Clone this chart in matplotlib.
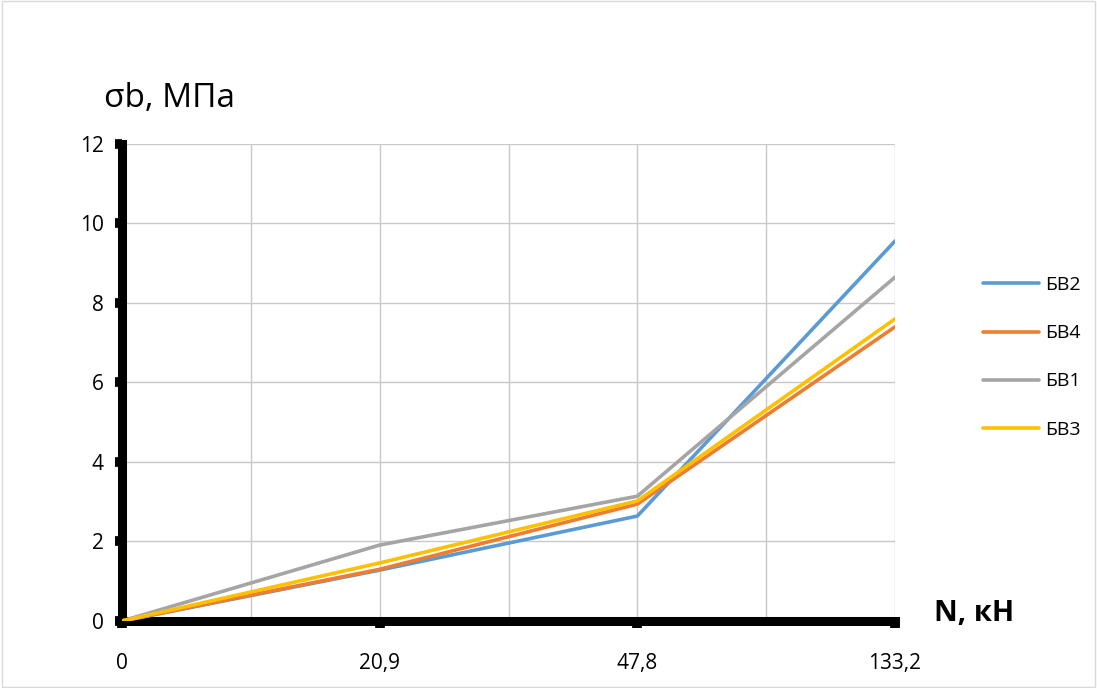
import matplotlib.pyplot as plt
from matplotlib.patches import Rectangle

# Data
categories = ["0", "20,9", "47,8", "133,2"]
series_names = ["БВ2", "БВ4", "БВ1", "БВ3"]
bv2 = [0, 1.28, 2.64, 9.56]
bv4 = [0, 1.30, 2.94, 7.40]
bv1 = [0, 1.91, 3.14, 8.65]
bv3 = [0, 1.46, 3.02, 7.60]
colors = ["#5B9BD5", "#ED7D31", "#A5A5A5", "#FFC000"]

plt.rcParams['font.family'] = ['Open Sans', 'DejaVu Sans']

fig = plt.figure(figsize=(10.97, 6.88), dpi=100)
ax = fig.add_axes([0.1112, 0.0974, 0.7047, 0.6933])

x = list(range(len(categories)))
for vals, name, c in zip([bv2, bv4, bv1, bv3], series_names, colors):
    ax.plot(x, vals, color=c, lw=2.6, label=name, solid_capstyle='round', zorder=3)

ax.set_xlim(0, 3)
ax.set_ylim(0, 12)
ax.set_xticks(x)
ax.set_xticklabels(categories)
ax.set_xticks([0.5, 1.5, 2.5], minor=True)
ax.set_yticks(range(0, 13, 2))

ax.grid(True, which='both', color='#C8C8C8', lw=1, zorder=0)
ax.tick_params(axis='both', which='major', length=5, width=7, color='black',
               labelsize=15, pad=8)
ax.tick_params(axis='x', which='minor', length=0)
ax.tick_params(axis='x', pad=18)

for side in ['top', 'right']:
    ax.spines[side].set_visible(False)
for side in ['left', 'bottom']:
    ax.spines[side].set_linewidth(6.5)
    ax.spines[side].set_capstyle('projecting')

fig.text(0.095, 0.845, "σb, МПа", fontsize=24)
fig.text(0.851, 0.097, "N, кН", fontsize=21, fontweight='bold')

ax.legend(loc='upper left', bbox_to_anchor=(0.88, 0.624), bbox_transform=fig.transFigure,
          frameon=False, fontsize=14, handlelength=2.9, labelspacing=1.55,
          handletextpad=0.3)

fig.patches.append(Rectangle((0.002, 0.002), 0.996, 0.996, transform=fig.transFigure,
                             fill=False, edgecolor='#D9D9D9', lw=1))

fig.savefig("out.png", dpi=100)
